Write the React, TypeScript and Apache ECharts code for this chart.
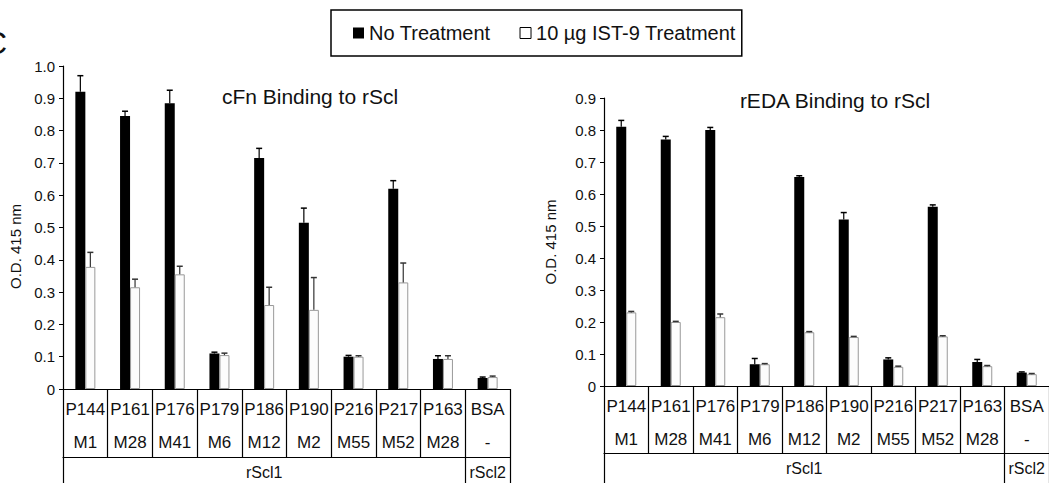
import React, { useEffect, useRef } from "react";
import * as echarts from "echarts";

const pNames = ["P144", "P161", "P176", "P179", "P186", "P190", "P216", "P217", "P163", "BSA"];
const mNames = ["M1", "M28", "M41", "M6", "M12", "M2", "M55", "M52", "M28", "-"];
const groupLabels = ["rScl1", "rScl2"];
const groupBounds = [0, 9, 10];

const seriesNames = ["No Treatment", "10 µg IST-9 Treatment"];

const cfnNo = [0.92, 0.845, 0.885, 0.11, 0.715, 0.515, 0.1, 0.62, 0.093, 0.034];
const cfnNoErr = [0.05, 0.015, 0.04, 0.004, 0.03, 0.045, 0.004, 0.025, 0.01, 0.003];
const cfnIst = [0.378, 0.315, 0.355, 0.105, 0.26, 0.245, 0.1, 0.33, 0.093, 0.037];
const cfnIstErr = [0.045, 0.025, 0.025, 0.006, 0.055, 0.1, 0.003, 0.06, 0.01, 0.003];

const edaNo = [0.81, 0.77, 0.8, 0.068, 0.653, 0.52, 0.083, 0.56, 0.075, 0.042];
const edaNoErr = [0.02, 0.01, 0.008, 0.018, 0.004, 0.022, 0.005, 0.006, 0.008, 0.002];
const edaIst = [0.23, 0.2, 0.215, 0.068, 0.168, 0.153, 0.06, 0.155, 0.062, 0.037];
const edaIstErr = [0.003, 0.002, 0.01, 0.002, 0.002, 0.002, 0.002, 0.002, 0.002, 0.002];

const FONT = "'Liberation Sans', Arial, sans-serif";
const BAR_W = 10;

function errSeries(vals: number[], errs: number[], idx: number, offset: number, color: string) {
  return {
    type: "custom",
    xAxisIndex: idx * 2,
    yAxisIndex: idx,
    silent: true,
    z: 5,
    data: vals.map((v, i) => [i, v, v + errs[i]]),
    renderItem: (params: any, api: any) => {
      const i = api.value(0);
      const p0 = api.coord([i, api.value(1)]);
      const p1 = api.coord([i, api.value(2)]);
      const x = p0[0] + offset;
      return {
        type: "group",
        children: [
          { type: "line", shape: { x1: x, y1: p0[1], x2: x, y2: p1[1] }, style: { stroke: color, lineWidth: 1.2 } },
          { type: "line", shape: { x1: x - 3, y1: p1[1], x2: x + 3, y2: p1[1] }, style: { stroke: color, lineWidth: 1.5 } },
        ],
      };
    },
  };
}

function xAxes(gridIndex: number, offset: number) {
  return [
    {
      type: "category",
      gridIndex,
      data: pNames,
      axisLine: { lineStyle: { color: "#000", width: 1.2 } },
      axisTick: { show: true, interval: 0, alignWithLabel: false, length: offset, lineStyle: { color: "#000", width: 1.2 } },
      axisLabel: {
        interval: 0,
        margin: 4,
        lineHeight: 33,
        fontSize: 17,
        fontFamily: FONT,
        color: "#111",
        formatter: (v: string, i: number) => `${v}\n${mNames[i]}`,
      },
    },
    {
      type: "value",
      gridIndex,
      min: 0,
      max: 10,
      position: "bottom",
      offset,
      splitLine: { show: false },
      axisLine: { show: true, lineStyle: { color: "#000", width: 1.2 } },
      axisTick: { show: true, customValues: groupBounds, length: 30, lineStyle: { color: "#000", width: 1.2 } },
      axisLabel: {
        customValues: [(groupBounds[0] + groupBounds[1]) / 2, (groupBounds[1] + groupBounds[2]) / 2],
        formatter: (v: number) => (v < groupBounds[1] ? groupLabels[0] : groupLabels[1]),
        margin: 7,
        fontSize: 16,
        fontFamily: FONT,
        color: "#111",
      },
    },
  ];
}

function yAxis(gridIndex: number, max: number, nameGap: number, namePad: number[]) {
  return {
    type: "value",
    gridIndex,
    min: 0,
    max,
    interval: 0.1,
    name: "O.D. 415 nm",
    nameLocation: "middle",
    nameGap,
    nameTextStyle: { fontSize: 15, fontFamily: FONT, color: "#111", padding: namePad },
    splitLine: { show: false },
    axisLine: { show: true, lineStyle: { color: "#000", width: 1.2 } },
    axisTick: { show: true, length: 4, lineStyle: { color: "#000" } },
    axisLabel: {
      fontSize: 15,
      fontFamily: FONT,
      color: "#111",
      margin: 8,
      formatter: (v: number) => (v === 0 ? "0" : v.toFixed(1)),
    },
  };
}

function barSeries(idx: number, noVals: number[], istVals: number[]) {
  return [
    {
      name: seriesNames[0],
      type: "bar",
      xAxisIndex: idx * 2,
      yAxisIndex: idx,
      data: noVals,
      barWidth: BAR_W,
      barGap: "0%",
      itemStyle: { color: "#000" },
    },
    {
      name: seriesNames[1],
      type: "bar",
      xAxisIndex: idx * 2,
      yAxisIndex: idx,
      data: istVals,
      barWidth: BAR_W,
      barGap: "0%",
      itemStyle: { color: "#fcfcfc", borderColor: "#999", borderWidth: 1 },
    },
  ];
}

export default function App() {
  const ref = useRef<HTMLDivElement>(null);
  useEffect(() => {
    if (!ref.current) return;
    const chart = echarts.init(ref.current, null, { renderer: "svg" });
    const titleStyle = { fontSize: 21, fontWeight: "normal", fontFamily: FONT, color: "#111" };
    chart.setOption({
      animation: false,
      backgroundColor: "#fff",
      title: [
        { text: "cFn Binding to rScl", left: 305, top: 81, textAlign: "center", textStyle: titleStyle },
        { text: "rEDA Binding to rScl", left: 830, top: 85, textAlign: "center", textStyle: titleStyle },
      ],
      legend: {
        left: 331,
        top: 10,
        padding: [13, 6, 13, 22],
        itemGap: 29,
        itemWidth: 11,
        itemHeight: 11,
        borderColor: "#000",
        borderWidth: 1.5,
        textStyle: { fontSize: 20, fontFamily: FONT, color: "#111" },
        data: [
          { name: seriesNames[0], icon: "rect", itemStyle: { color: "#000" } },
          { name: seriesNames[1], icon: "rect", itemStyle: { color: "#fff", borderColor: "#000", borderWidth: 1 } },
        ],
      },
      graphic: [
        { type: "text", left: -16, top: 27, style: { text: "C", fontSize: 32, fontFamily: FONT, fill: "#111" } },
      ],
      grid: [
        { left: 63, top: 66, width: 447, height: 323 },
        { left: 604, top: 98, width: 454, height: 288 },
      ],
      xAxis: [...xAxes(0, 68), ...xAxes(1, 67)],
      yAxis: [yAxis(0, 1.0, 40, [0, 38, 0, 0]), yAxis(1, 0.9, 46, [0, 0, 0, 0])],
      series: [
        ...barSeries(0, cfnNo, cfnIst),
        ...barSeries(1, edaNo, edaIst),
        errSeries(cfnNo, cfnNoErr, 0, -BAR_W / 2, "#000"),
        errSeries(cfnIst, cfnIstErr, 0, BAR_W / 2, "#333"),
        errSeries(edaNo, edaNoErr, 1, -BAR_W / 2, "#000"),
        errSeries(edaIst, edaIstErr, 1, BAR_W / 2, "#333"),
      ],
    });
    return () => chart.dispose();
  }, []);
  return <div ref={ref} style={{ position: "fixed", left: 0, top: 0, width: 1049, height: 483 }} />;
}
